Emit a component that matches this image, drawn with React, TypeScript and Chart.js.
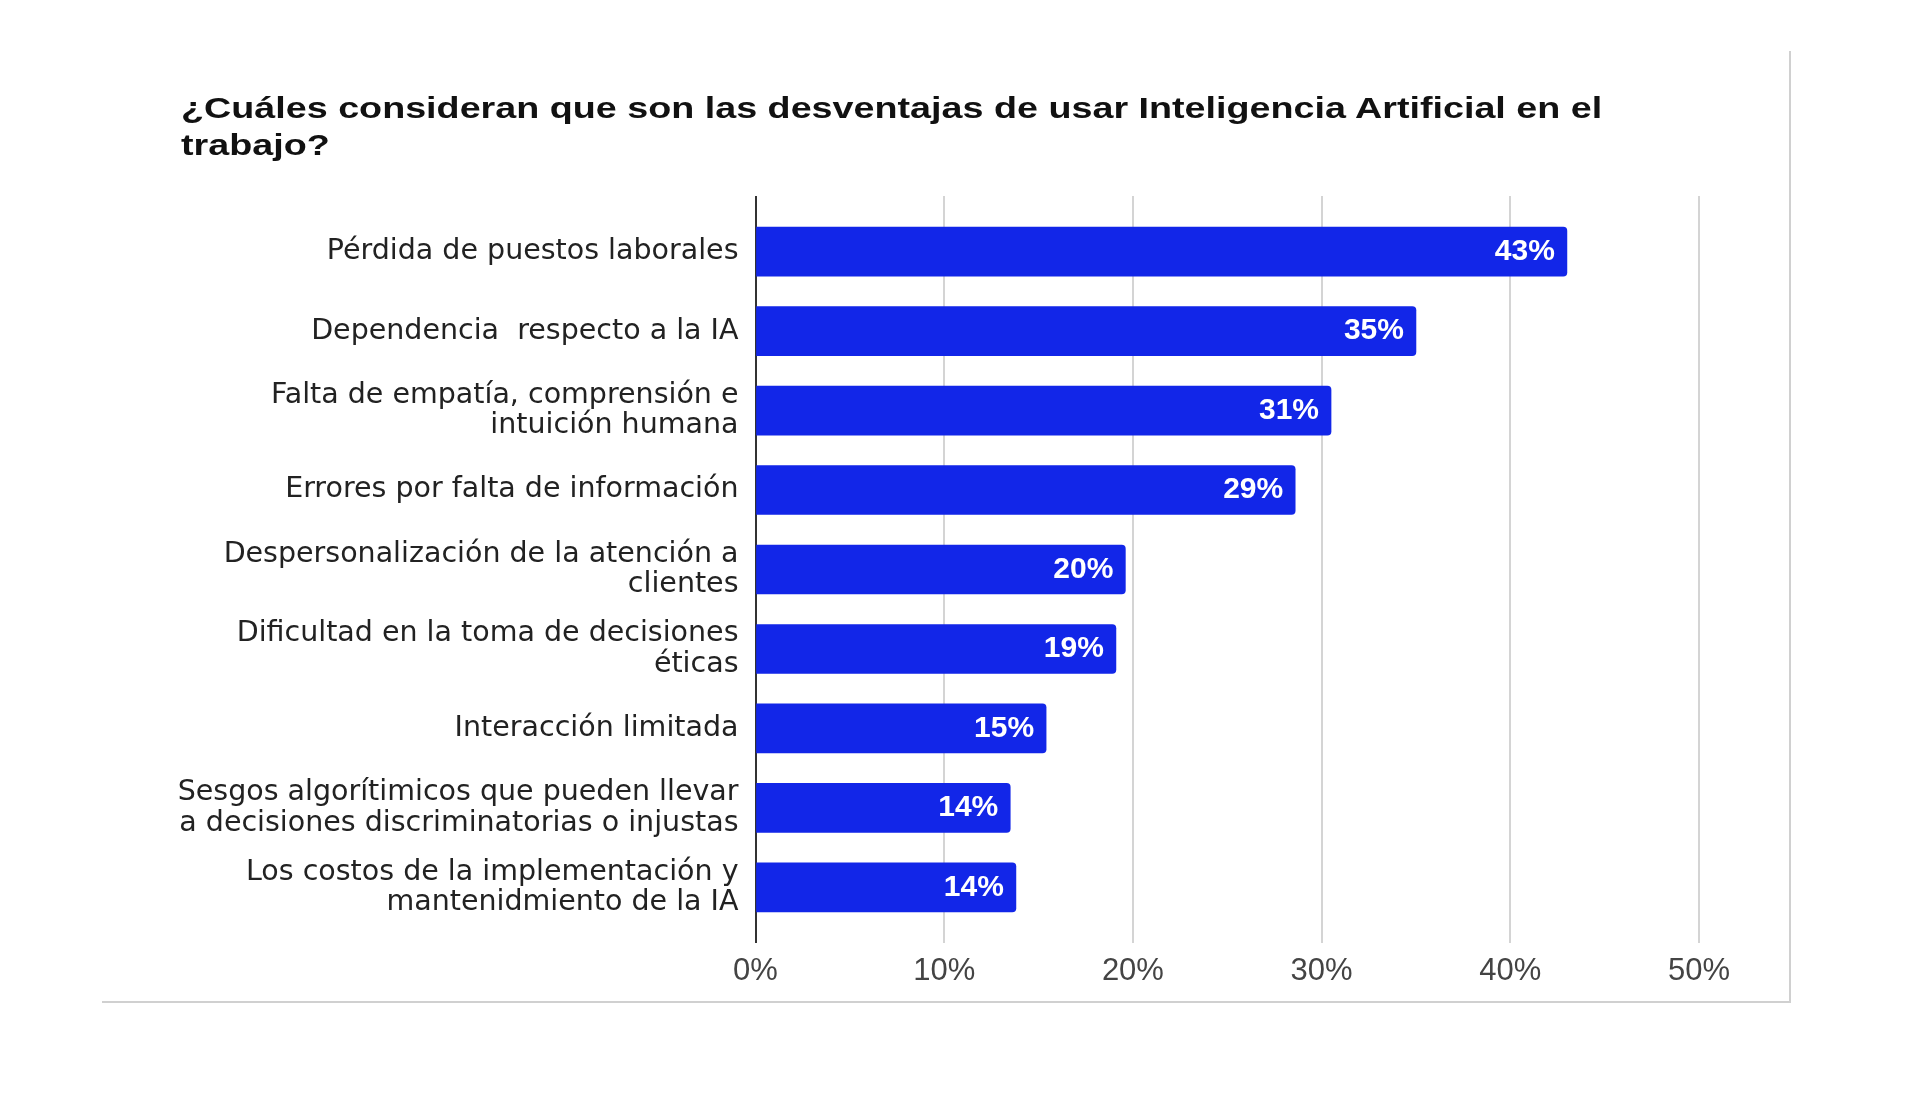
import React, { useEffect, useRef } from "react";
import { Chart, registerables } from "chart.js";

Chart.register(...registerables);

const TITLE_LINES = [
  "¿Cuáles consideran que son las desventajas de usar Inteligencia Artificial en el",
  "trabajo?",
];

const CATEGORIES: (string | string[])[] = [
  "Pérdida de puestos laborales",
  "Dependencia  respecto a la IA",
  ["Falta de empatía, comprensión e", "intuición humana"],
  "Errores por falta de información",
  ["Despersonalización de la atención a", "clientes"],
  ["Dificultad en la toma de decisiones", "éticas"],
  "Interacción limitada",
  ["Sesgos algorítimicos que pueden llevar", "a decisiones discriminatorias o injustas"],
  ["Los costos de la implementación y", "mantenidmiento de la IA"],
];

const VALUES = [43.0, 35.0, 30.5, 28.6, 19.6, 19.1, 15.4, 13.5, 13.8];

const X_TICKS = [0, 10, 20, 30, 40, 50];

const BAR_COLOR = "#1226e8";
const FONT = "'Liberation Sans', Arial, sans-serif";
const LABEL_FONT = "'DejaVu Sans', sans-serif";

const valueLabelPlugin = {
  id: "valueLabels",
  afterDatasetsDraw(chart: any) {
    const ctx = chart.ctx;
    const meta = chart.getDatasetMeta(0);
    ctx.save();
    ctx.font = `bold 30px ${FONT}`;
    ctx.fillStyle = "#ffffff";
    ctx.textAlign = "right";
    ctx.textBaseline = "middle";
    meta.data.forEach((bar: any, i: number) => {
      const text = Math.round(VALUES[i]) + "%";
      ctx.fillText(text, bar.x - 12, bar.y);
    });
    ctx.restore();
  },
};

export default function App() {
  const canvasRef = useRef<HTMLCanvasElement | null>(null);

  useEffect(() => {
    if (!canvasRef.current) return;
    const chart = new Chart(canvasRef.current, {
      type: "bar",
      data: {
        datasets: [
          {
            data: VALUES.map((v, i) => ({ x: v, y: i })),
            backgroundColor: BAR_COLOR,
            borderWidth: 0,
            borderRadius: 4,
            barThickness: 49,
          },
        ],
      },
      options: {
        indexAxis: "y",
        animation: false,
        responsive: true,
        maintainAspectRatio: false,
        layout: { padding: { left: 150, right: 221, top: 196, bottom: 114 } },
        plugins: {
          legend: { display: false },
          tooltip: { enabled: false },
          title: { display: false },
        },
        scales: {
          x: {
            type: "linear",
            min: 0,
            max: 50,
            afterBuildTicks: (scale: any) => {
              scale.ticks = X_TICKS.map((v) => ({ value: v }));
            },
            afterFit: (scale: any) => {
              scale.height = 60;
            },
            border: { display: false },
            grid: {
              drawTicks: false,
              lineWidth: 2,
              color: (c: any) => (c.tick && c.tick.value === 0 ? "#333333" : "#d4d4d4"),
            },
            ticks: {
              padding: 10,
              color: "#444444",
              font: { family: FONT, size: 31 },
              callback: (v: any) => v + "%",
            },
          },
          y: {
            type: "linear",
            min: -0.7,
            max: 8.7,
            reverse: true,
            offset: false,
            afterBuildTicks: (scale: any) => {
              scale.ticks = CATEGORIES.map((_, i) => ({ value: i }));
            },
            afterFit: (scale: any) => {
              scale.width = 755.5 - 150;
            },
            border: { display: false },
            grid: { display: false, drawTicks: false, offset: false },
            ticks: {
              padding: 17,
              color: "#222222",
              font: { family: LABEL_FONT, size: 28.5, lineHeight: 1.07 },
              callback: (v: any) => CATEGORIES[Math.round(v)] as any,
            },
          },
        },
      },
      plugins: [valueLabelPlugin],
    });
    return () => chart.destroy();
  }, []);

  return (
    <div style={{ position: "absolute", left: 0, top: 0, width: 1920, height: 1117, background: "#ffffff" }}>
      <div
        style={{
          position: "absolute",
          left: 102,
          top: 51,
          width: 1689,
          height: 952,
          borderRight: "2px solid #d0d0d0",
          borderBottom: "2px solid #d0d0d0",
          boxSizing: "border-box",
        }}
      />
      <canvas ref={canvasRef} style={{ position: "absolute", left: 0, top: 0, width: 1920, height: 1117 }} />
      <div
        style={{
          position: "absolute",
          left: 181,
          top: 90,
          fontFamily: FONT,
          fontWeight: "bold",
          fontSize: 29,
          lineHeight: "36.5px",
          color: "#111111",
          whiteSpace: "nowrap",
          transform: "scaleX(1.3)",
          transformOrigin: "0 0",
        }}
      >
        {TITLE_LINES.map((line, i) => (
          <div key={i}>{line}</div>
        ))}
      </div>
    </div>
  );
}
